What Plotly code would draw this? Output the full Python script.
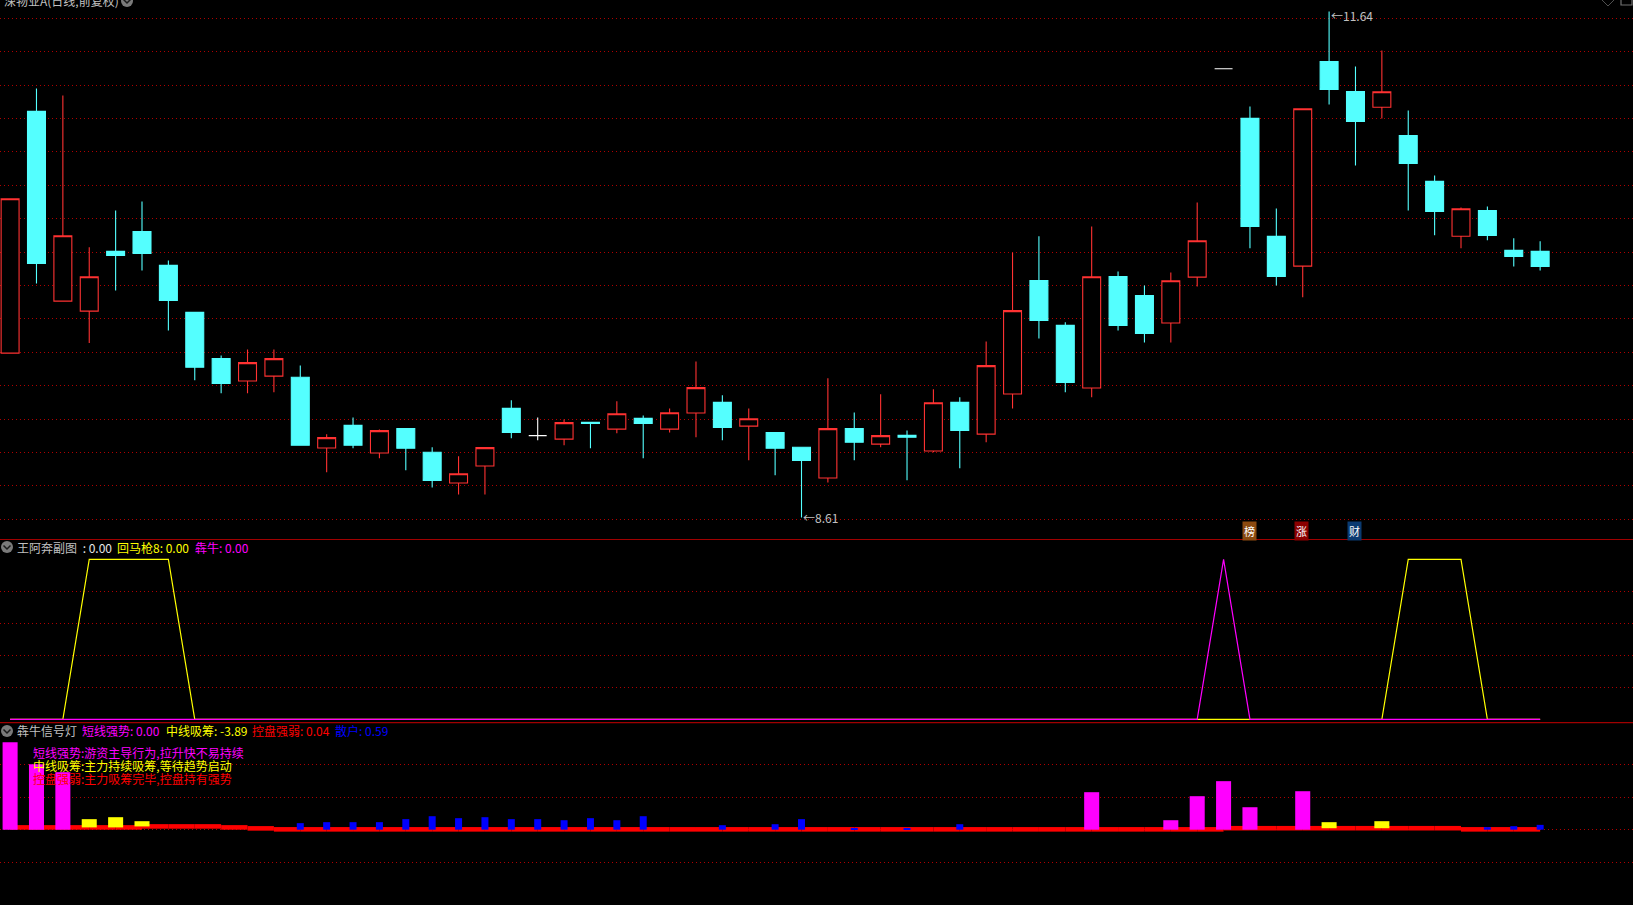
import plotly.graph_objects as go

W, H = 1633, 905

# ---------- price panel ----------
days = list(range(59))
open_ = [9.595,11.042,9.906,9.846,10.204,10.323,10.120,9.839,9.563,9.428,
         9.457,9.450,9.027,9.162,8.997,9.144,9.001,8.817,8.919,9.264,
         9.101,9.080,9.180,9.140,9.204,9.140,9.236,9.300,9.158,9.120,
         9.031,8.847,9.144,9.050,9.103,9.009,9.300,9.110,9.350,10.030,
         9.761,9.386,10.054,9.940,9.775,10.050,11.297,11.000,10.294,10.116,
         11.341,11.161,11.067,10.898,10.623,10.295,10.449,10.210,10.204]
high = [10.519,11.179,11.137,10.228,10.449,10.503,10.150,9.839,9.581,9.617,
        9.617,9.521,9.109,9.210,9.138,9.144,9.031,8.977,9.029,9.312,
        9.210,9.198,9.180,9.306,9.222,9.264,9.545,9.342,9.264,9.120,
        9.031,9.444,9.240,9.348,9.132,9.378,9.330,9.665,10.198,10.294,
        9.779,10.353,10.084,10.000,10.078,10.497,11.297,11.072,10.461,11.058,
        11.640,11.311,11.407,11.048,10.659,10.467,10.473,10.282,10.264]
low = [9.595,10.012,9.906,9.655,9.970,10.090,9.731,9.432,9.354,9.354,
       9.360,9.043,8.881,9.025,8.965,8.893,8.791,8.749,8.749,9.085,
       9.073,9.043,9.025,9.115,8.965,9.120,9.091,9.073,8.953,8.863,
       8.610,8.821,8.953,9.031,8.833,9.001,8.905,9.061,9.264,9.683,
       9.360,9.330,9.731,9.659,9.659,9.994,11.297,10.222,10.000,9.930,
       11.084,10.718,11.000,10.449,10.300,10.222,10.270,10.114,10.090]
close = [10.519,10.132,10.298,10.052,10.180,10.192,9.910,9.510,9.414,9.538,
         9.562,9.043,9.089,9.043,9.131,9.025,8.833,8.873,9.029,9.120,
         9.101,9.179,9.174,9.232,9.174,9.238,9.388,9.150,9.202,9.025,
         8.953,9.143,9.061,9.101,9.091,9.298,9.132,9.520,9.849,9.791,
         9.420,10.052,9.761,9.713,10.028,10.268,11.297,10.353,10.054,11.058,
         11.173,10.982,11.160,10.730,10.443,10.459,10.300,10.174,10.114]
flat_days = [20, 46]          # open equals close, drawn white
price_ticks = [8.6, 8.8, 9.0, 9.2, 9.4, 9.6, 9.8, 10.0, 10.2, 10.4, 10.6, 10.8,
               11.0, 11.2, 11.4, 11.6]

# ---------- first indicator panel ----------
hmq = [0,0,0,100,100,100,100,0,0,0, 0,0,0,0,0,0,0,0,0,0,
       0,0,0,0,0,0,0,0,0,0, 0,0,0,0,0,0,0,0,0,0,
       0,0,0,0,0,0,0,0,0,0, 0,0,0,100,100,100,0,0,0]
bn = [0,0,0,0,0,0,0,0,0,0, 0,0,0,0,0,0,0,0,0,0,
      0,0,0,0,0,0,0,0,0,0, 0,0,0,0,0,0,0,0,0,0,
      0,0,0,0,0,0,100,0,0,0, 0,0,0,0,0,0,0,0,0]
ind1_ticks = [20, 40, 60, 80]

# ---------- signal-light panel ----------
short_days = [0, 1, 2, 41, 44, 45, 46, 47, 49]
short_vals = [10.71, 8.02, 7.04, 4.59, 1.16, 4.10, 5.94, 2.75, 4.71]
mid_days = [3, 4, 5, 50, 52]
mid_vals = [1.29, 1.53, 1.04, 0.92, 1.04]
mid_base = [0.28, 0.28, 0.40, 0.18, 0.18]
retail_days = [11,12,13,14,15,16,17,18,19,20,21,22,23,24,27,29,30,32,34,36,56,57,58]
retail_vals = [0.80,0.92,0.92,0.92,1.29,1.65,1.41,1.53,1.29,1.29,1.16,1.41,1.16,1.65,
               0.55,0.67,1.29,0.18,0.18,0.67,0.31,0.43,0.59]
control = [0.28,0.28,0.28,0.28,0.28,0.40,0.40,0.40,0.28,0.16,
           0.04,0.04,0.04,0.04,0.04,0.04,0.04,0.04,0.04,0.04,
           0.04,0.04,0.04,0.04,0.04,0.04,0.04,0.04,0.04,0.04,
           0.04,0.04,0.04,0.04,0.04,0.04,0.04,0.04,0.04,0.04,
           0.04,0.04,0.04,0.04,0.04,0.04,0.18,0.18,0.18,0.18,
           0.18,0.18,0.18,0.18,0.18,0.04,0.04,0.04,0.04]
ind2_ticks = [-4, 0, 4, 8]
CONTROL_THICK = 0.56

# ---------- styles ----------
RED, CYAN = "#FF3232", "#54FFFF"
GRID, SEP = "#B00000", "#A00000"
GREY = "#C0C0C0"
CJK = "Noto Sans CJK SC"
XR = [-0.383, 61.52]


def py(p):
    return 1 - p / H


def px(p):
    return p / W


fig = go.Figure()

body_days = [d for d in days if d not in flat_days]
fig.add_trace(go.Candlestick(
    x=body_days,
    open=[open_[d] for d in body_days], high=[high[d] for d in body_days],
    low=[low[d] for d in body_days], close=[close[d] for d in body_days],
    increasing=dict(line=dict(color=RED, width=1.1), fillcolor="#000000"),
    decreasing=dict(line=dict(color=CYAN, width=1.1), fillcolor=CYAN),
    whiskerwidth=0, xaxis="x", yaxis="y", showlegend=False, hoverinfo="skip"))
fig.add_trace(go.Candlestick(
    x=flat_days,
    open=[open_[d] for d in flat_days], high=[high[d] for d in flat_days],
    low=[low[d] for d in flat_days], close=[close[d] for d in flat_days],
    increasing=dict(line=dict(color="#FFFFFF", width=1.1), fillcolor="#FFFFFF"),
    decreasing=dict(line=dict(color="#FFFFFF", width=1.1), fillcolor="#FFFFFF"),
    whiskerwidth=0, xaxis="x", yaxis="y", showlegend=False, hoverinfo="skip"))

fig.add_trace(go.Scatter(x=days, y=hmq, mode="lines", line=dict(color="#FFFF00", width=1.2),
                         xaxis="x2", yaxis="y2", showlegend=False, hoverinfo="skip"))
fig.add_trace(go.Scatter(x=days, y=bn, mode="lines", line=dict(color="#FF00FF", width=1.2),
                         xaxis="x2", yaxis="y2", showlegend=False, hoverinfo="skip"))

fig.add_trace(go.Bar(x=days[:-1], y=[CONTROL_THICK] * 58,
                     base=[v - CONTROL_THICK / 2 for v in control[:-1]],
                     width=1, offset=0, marker=dict(color="#FF0000", line=dict(width=0)),
                     xaxis="x3", yaxis="y3", showlegend=False, hoverinfo="skip"))
fig.add_trace(go.Bar(x=mid_days, y=[t - b for t, b in zip(mid_vals, mid_base)], base=mid_base,
                     width=0.57, marker=dict(color="#FFFF00", line=dict(width=0)),
                     xaxis="x3", yaxis="y3", showlegend=False, hoverinfo="skip"))
fig.add_trace(go.Bar(x=short_days, y=short_vals, width=0.57,
                     marker=dict(color="#FF00FF", line=dict(width=0)),
                     xaxis="x3", yaxis="y3", showlegend=False, hoverinfo="skip"))
fig.add_trace(go.Bar(x=retail_days, y=retail_vals, width=0.265,
                     marker=dict(color="#0000FF", line=dict(width=0)),
                     xaxis="x3", yaxis="y3", showlegend=False, hoverinfo="skip"))


def xaxis(anchor):
    return dict(range=XR, domain=[0, 1], visible=False, anchor=anchor, fixedrange=True,
                rangeslider=dict(visible=False))


def yaxis(rng, dom, ticks, anchor):
    return dict(range=rng, domain=dom, anchor=anchor, tickmode="array", tickvals=ticks,
                showticklabels=False, ticks="", showline=False, zeroline=False,
                showgrid=True, gridcolor=GRID, griddash="1px,3px", gridwidth=1, fixedrange=True)


annotations = []


def label(x, y, text, color, size=12, xanchor="left", font=CJK, pad=0, **kw):
    annotations.append(dict(xref="paper", yref="paper", x=px(x), y=py(y), text=text,
                            showarrow=False, xanchor=xanchor, yanchor="middle",
                            font=dict(family=font, size=size, color=color),
                            borderpad=pad, **kw))


label(3, 0, "深物业A(日线,前复权)", GREY)
label(16, 547, "王阿奔副图", GREY)
label(79, 547, " : 0.00", "#E8E8E8")
label(116, 547, "回马枪8: 0.00", "#FFFF00")
label(194, 547, "犇牛: 0.00", "#FF00FF")
label(16, 730, "犇牛信号灯", GREY)
label(81, 730, "短线强势: 0.00", "#FF00FF")
label(165, 730, "中线吸筹: -3.89", "#FFFF00")
label(251, 730, "控盘强弱: 0.04", "#FF0000")
label(334, 730, "散户: 0.59", "#0000FF")
label(32, 752, "短线强势:游资主导行为,拉升快不易持续", "#FF00FF")
label(32, 765, "中线吸筹:主力持续吸筹,等待趋势启动", "#FFFF00")
label(32, 778, "控盘强弱:主力吸筹完毕,控盘持有强势", "#FF0000")
label(1330, 16, "←11.64", GREY)
label(802, 517, "←8.61", GREY)
label(1249.5, 531, "榜", "#FFFFFF", size=11, xanchor="center", pad=1, bgcolor="#8B4A10")
label(1301.5, 531, "涨", "#FFFFFF", size=11, xanchor="center", pad=1, bgcolor="#8B0000")
label(1354.5, 531, "财", "#FFFFFF", size=11, xanchor="center", pad=1, bgcolor="#0A3A70")

shapes = []
for yp in (539.5, 722.7):
    shapes.append(dict(type="line", xref="paper", yref="paper", x0=0, x1=1, y0=py(yp), y1=py(yp),
                       line=dict(color=SEP, width=1.2), layer="above"))
for cx, cy in ((127, 1), (7, 547), (7, 731)):
    shapes.append(dict(type="circle", xref="paper", yref="paper",
                       x0=px(cx - 6), x1=px(cx + 6), y0=py(cy - 6), y1=py(cy + 6),
                       fillcolor="#7A7A7A", line=dict(width=0), layer="above"))
    shapes.append(dict(type="path", xref="paper", yref="paper",
                       path=f"M{px(cx-3.5)},{py(cy-1.5)} L{px(cx)},{py(cy+2)} L{px(cx+3.5)},{py(cy-1.5)}",
                       line=dict(color="#1A1A1A", width=1.5), layer="above"))
shapes.append(dict(type="path", xref="paper", yref="paper",
                   path=f"M{px(1602)},{py(0)} L{px(1608)},{py(6)} L{px(1614)},{py(0)}",
                   line=dict(color="#505050", width=1), layer="above"))
shapes.append(dict(type="rect", xref="paper", yref="paper",
                   x0=px(1621), x1=px(1632), y0=py(-3), y1=py(5),
                   line=dict(color="#707070", width=1.2), layer="above"))

fig.update_layout(
    width=W, height=H, autosize=False,
    margin=dict(l=0, r=0, t=0, b=0, pad=0),
    paper_bgcolor="#000000", plot_bgcolor="#000000",
    barmode="overlay", boxgap=0.32, boxgroupgap=0, boxmode="overlay",
    showlegend=False, dragmode=False,
    xaxis=xaxis("y"), xaxis2=xaxis("y2"), xaxis3=xaxis("y3"),
    yaxis=yaxis([8.482, 11.709], [py(539), 1], price_ticks, "x"),
    yaxis2=yaxis([-2.1, 112.06], [py(722.7), py(540)], ind1_ticks, "x2"),
    yaxis3=yaxis([-9.22, 13.06], [0, py(723)], ind2_ticks, "x3"),
    annotations=annotations, shapes=shapes,
)

fig.write_html("out.html", post_script="document.body.style.margin='0';document.documentElement.style.overflow='hidden';",
               config=dict(displayModeBar=False))
